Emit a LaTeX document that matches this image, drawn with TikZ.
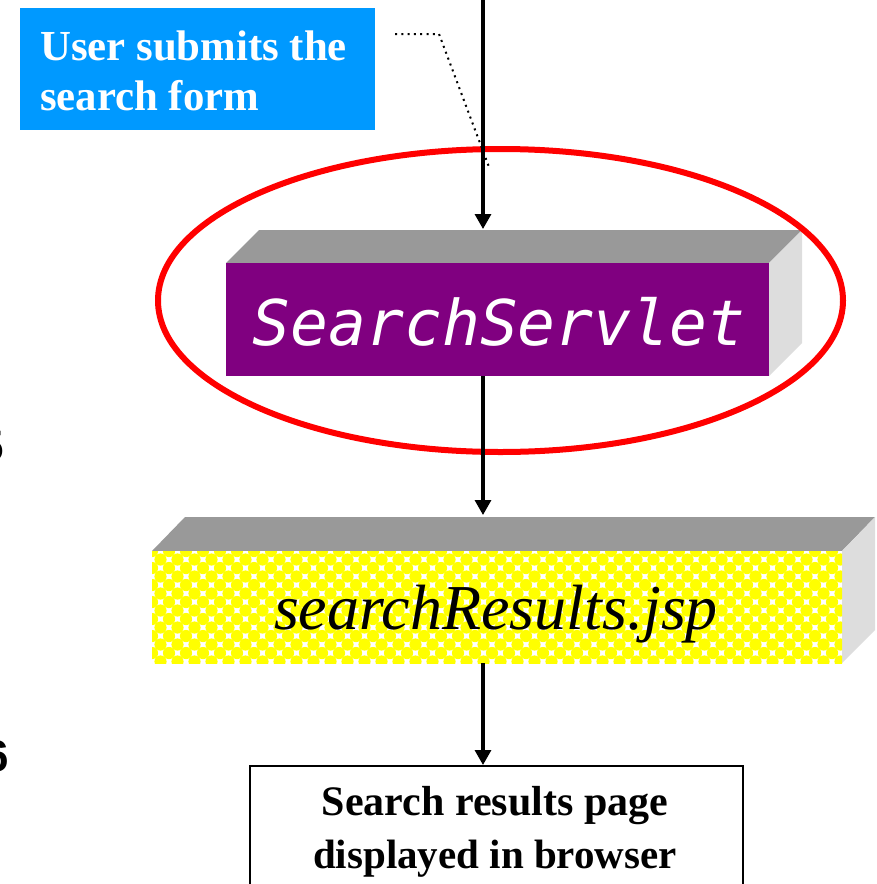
\documentclass[tikz,border=0pt]{standalone}
\usepackage{fontspec}
\setmainfont{Liberation Serif}
\newfontfamily\arialf{Liberation Sans}
\newfontfamily\monof{DejaVu Sans Mono}
\usetikzlibrary{arrows.meta}
\definecolor{bluebox}{RGB}{0,153,255}
\definecolor{purplebox}{RGB}{128,0,128}
\definecolor{topgray}{RGB}{153,153,153}
\definecolor{sidegray}{RGB}{221,221,221}
\definecolor{ballyellow}{RGB}{255,255,0}
\tikzset{
  flowarrow/.style={line width=3.2pt,-{Triangle[width=16pt,length=15pt]}},
  topface/.style={fill=topgray},
  sideface/.style={fill=sidegray},
  bigtext/.style={inner sep=0pt,anchor=base},
}
\begin{document}
\begin{tikzpicture}[x=1pt,y=-1pt]
\useasboundingbox (0,0) rectangle (876,884);
% cut-off glyphs at the left margin
\node[inner sep=0pt,anchor=base east] (g1) at (4,461) {\arialf\bfseries\fontsize{44}{50}\selectfont 5};
\node[inner sep=0pt,anchor=base east] (g2) at (9,771) {\arialf\bfseries\fontsize{44}{50}\selectfont 6};
% user box
\node[fill=bluebox,inner sep=0pt,minimum width=355pt,minimum height=122pt,anchor=north west] (user) at (20,8) {};
\node[bigtext,anchor=base west,text=white] (u1) at (40,60) {\fontsize{42.8}{50}\selectfont\bfseries User submits the};
\node[bigtext,anchor=base west,text=white] (u2) at (40,110) {\fontsize{42.8}{50}\selectfont\bfseries search form};
% servlet box
\fill[topface] (226,263) -- (259,230) -- (802,230) -- (769,263) -- cycle;
\fill[sideface] (769,263) -- (802,230) -- (802,343) -- (769,376) -- cycle;
\node[fill=purplebox,inner sep=0pt,minimum width=543pt,minimum height=113pt,anchor=north west] (servlet) at (226,263) {};
\node[bigtext,text=white] (servlettxt) at (499,345) {\monof\itshape\fontsize{63}{70}\selectfont SearchServlet};
% results box
\fill[topface] (152,551) -- (185,517) -- (875,517) -- (842,551) -- cycle;
\fill[sideface] (842,551) -- (875,517) -- (875,630) -- (842,663) -- cycle;
\node[fill=white,inner sep=0pt,minimum width=690pt,minimum height=112pt,anchor=north west] (results) at (152,551) {};
\begin{scope}
  \clip (152,551) rectangle (842,663);
  \foreach \i in {0,...,41}{
    \foreach \j in {0,...,7}{
      \fill[ballyellow] ({152+17*\i},{551+17*\j}) circle (6.1);
      \fill[ballyellow] ({160.5+17*\i},{559.5+17*\j}) circle (6.1);
    }
  }
\end{scope}
\node[bigtext] (resultstxt) at (496,629) {\itshape\fontsize{64}{70}\selectfont searchResults.jsp};
% browser box
\node[draw,line width=2pt,inner sep=0pt,minimum width=493pt,minimum height=125pt,anchor=north west] (browser) at (249,765) {};
\node[bigtext] (b1) at (495,815) {\fontsize{42}{50}\selectfont\bfseries Search results page};
\node[bigtext] (b2) at (495,868) {\fontsize{41}{50}\selectfont\bfseries displayed in browser};
% ellipse
\draw[red,line width=6pt] (500.5,300.5) ellipse [x radius=342.5,y radius=151.5];
% connectors
\coordinate (start) at (483,0);
\coordinate (servtop) at (483,229);
\coordinate (servbot) at (483,376);
\coordinate (restop) at (483,515);
\coordinate (resbot) at (483,663);
\coordinate (brtop) at (483,765);
\draw[flowarrow] (start) -- (servtop);
\draw[flowarrow] (servbot) -- (restop);
\draw[flowarrow] (resbot) -- (brtop);
% dotted callout
\coordinate (d1) at (395,34);
\coordinate (d2) at (439,34);
\coordinate (d3) at (489,167);
\draw[line width=2pt,dash pattern=on 2pt off 4.3pt] (d1) -- (d2) -- (d3);
\end{tikzpicture}
\end{document}
